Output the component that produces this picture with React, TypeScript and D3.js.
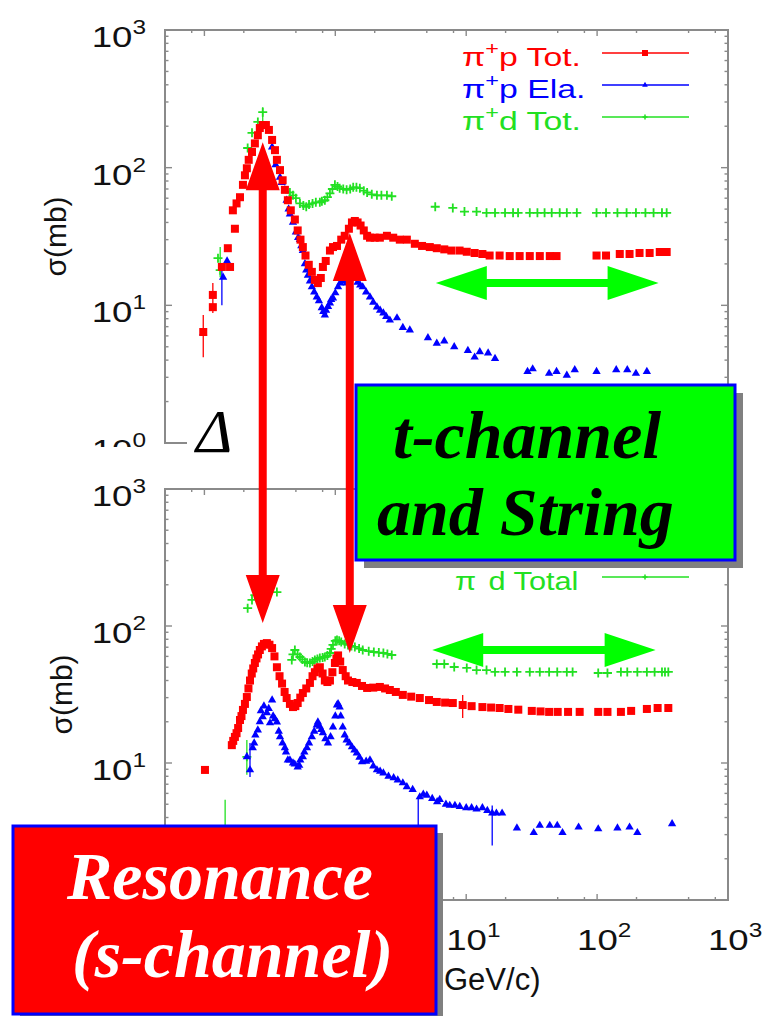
import React from "react";
import * as d3 from "d3";

type Pt = [number, number];
type Err = [number, number, number];

// p_lab (GeV/c), sigma (mb)
// top panel: pi+ p total, pi+ p elastic, pi+ d total
const pipTot: Pt[] = [
  [0.098, 6.4], [0.116, 9.7], [0.116, 11.9], [0.136, 19], [0.151, 26], [0.157, 19],
  [0.165, 49], [0.171, 36], [0.176, 55], [0.187, 61], [0.197, 75], [0.204, 88],
  [0.211, 99], [0.218, 114], [0.231, 130], [0.243, 150], [0.256, 172], [0.265, 194],
  [0.279, 204], [0.295, 204], [0.311, 188], [0.329, 159], [0.346, 134], [0.358, 114],
  [0.378, 96], [0.396, 81], [0.412, 69], [0.434, 58], [0.457, 49], [0.491, 42],
  [0.516, 35], [0.542, 30], [0.565, 26.5], [0.592, 23], [0.627, 19.7], [0.662, 17.5],
  [0.698, 15.3], [0.736, 14.5], [0.775, 15.8], [0.804, 19], [0.845, 21], [0.91, 25],
  [0.96, 26.5], [1.03, 27], [1.11, 30], [1.18, 32], [1.27, 36], [1.34, 40],
  [1.41, 41], [1.48, 40], [1.56, 38], [1.65, 35], [1.75, 32], [1.84, 31],
  [2.0, 31], [2.19, 31], [2.48, 32], [2.77, 31], [3.11, 30], [3.52, 30],
  [4.05, 28], [4.6, 27], [5.27, 26.5], [5.96, 26], [6.8, 25.5], [7.7, 25],
  [8.9, 25], [10.1, 24.5], [11.6, 24], [13.3, 23.6], [15.1, 23], [18, 23],
  [21.5, 22.8], [25.6, 22.8], [30.6, 22.8], [36.5, 22.8], [43.5, 22.8], [49, 22.8],
  [99, 23], [117, 23], [149, 23.6], [177, 23.6], [211, 24], [252, 24], [301, 24.4], [340, 24.4],
];
const pipEla: Pt[] = [
  [0.098, 6.3], [0.139, 16], [0.149, 21], [0.329, 141], [0.35, 105], [0.378, 85],
  [0.39, 78], [0.412, 69], [0.425, 58], [0.44, 50], [0.45, 46], [0.475, 40],
  [0.5, 34], [0.52, 31], [0.537, 30], [0.55, 27], [0.565, 25], [0.586, 20],
  [0.6, 18], [0.618, 16.5], [0.64, 15], [0.662, 13.6], [0.69, 12.5], [0.722, 11.5],
  [0.75, 10.8], [0.788, 9.6], [0.81, 9], [0.832, 8.5], [0.85, 9.2], [0.88, 9.8],
  [0.91, 10.4], [0.93, 11], [0.96, 11.3], [1.0, 12.3], [1.05, 13.6], [1.09, 14.5],
  [1.13, 15.3], [1.17, 15], [1.22, 14.5], [1.28, 15.5], [1.34, 16], [1.4, 15.8],
  [1.48, 14.7], [1.55, 14], [1.62, 13.6], [1.72, 12.5], [1.84, 11.5], [1.95, 10.5],
  [2.08, 9.7], [2.2, 9.2], [2.33, 8.8], [2.45, 8.3], [2.61, 7.8], [2.96, 8.1],
  [3.28, 6.9], [3.71, 6.6], [5.1, 5.8], [5.96, 5.3], [6.8, 5.5], [8.1, 5.0],
  [10.3, 4.7], [11.6, 4.2], [12.7, 4.6], [14.7, 4.5], [16.6, 4.1], [29.4, 3.3],
  [32.2, 3.45], [43, 3.2], [49, 3.3], [58.7, 3.1], [67.5, 3.4], [99, 3.3],
  [140, 3.4], [170, 3.4], [198, 3.2], [240, 3.3],
];
const pidTot: Pt[] = [
  [0.127, 22], [0.132, 18], [0.214, 139], [0.231, 179], [0.256, 215], [0.279, 253],
  [0.45, 66], [0.475, 63], [0.5, 60], [0.537, 55], [0.57, 53], [0.6, 52],
  [0.63, 54], [0.67, 55], [0.71, 56], [0.762, 56], [0.79, 57], [0.832, 58],
  [0.87, 61], [0.91, 65], [0.95, 70], [0.993, 75], [1.04, 73], [1.08, 71],
  [1.15, 70], [1.22, 69], [1.3, 70], [1.37, 72], [1.45, 72], [1.54, 71],
  [1.65, 68], [1.75, 66], [1.9, 64], [2.08, 63], [2.25, 63], [2.48, 63],
  [2.7, 62], [5.8, 52], [7.9, 51], [9.7, 48], [12.0, 48], [14.3, 47],
  [16.6, 47], [19.8, 47], [22.8, 47], [24.9, 47], [30.6, 47], [35, 47],
  [39.7, 47], [45, 47], [51.8, 47], [58.7, 47], [70, 47], [99, 47],
  [117, 47], [143, 47], [168, 47], [198, 47], [234, 47], [270, 47], [313, 47], [340, 47],
];

// bottom panel: pi- p total, pi- p elastic, pi- d total
const pimTot: Pt[] = [
  [0.101, 8.9], [0.162, 13.5], [0.166, 14.5], [0.171, 15.5], [0.176, 16.5], [0.181, 18],
  [0.187, 20.6], [0.192, 22], [0.197, 24.4], [0.204, 27], [0.211, 30.3], [0.217, 35],
  [0.223, 40], [0.23, 45], [0.236, 49], [0.243, 53.7], [0.25, 58], [0.257, 62],
  [0.265, 66.8], [0.275, 71], [0.285, 74], [0.3, 75], [0.314, 73], [0.329, 69],
  [0.343, 60], [0.358, 50], [0.375, 43], [0.392, 38], [0.41, 33], [0.425, 29.8],
  [0.45, 27], [0.475, 25.6], [0.495, 26], [0.516, 27.4], [0.54, 30], [0.565, 32.4],
  [0.6, 35], [0.64, 38.4], [0.67, 43], [0.698, 46], [0.73, 49], [0.762, 50],
  [0.8, 45], [0.832, 40], [0.87, 39], [0.91, 40], [0.95, 46], [0.993, 53.7],
  [1.02, 58], [1.05, 61], [1.09, 55], [1.14, 47.7], [1.2, 43], [1.25, 40],
  [1.35, 39], [1.46, 38.4], [1.6, 36.5], [1.75, 35.3], [1.95, 35.5], [2.19, 35.9],
  [2.4, 35], [2.61, 34.1], [2.9, 33], [3.28, 31.4], [3.8, 30.5], [4.42, 29.8],
  [5.2, 28.8], [5.96, 27.9], [6.9, 27.6], [7.9, 27.4], [9.4, 26.5], [11, 26],
  [13.3, 25.6], [15.5, 25.4], [18, 25.2], [21, 24.8], [25, 24.5], [31.7, 24],
  [37, 23.8], [43, 23.6], [50, 23.6], [60, 23.6], [73.6, 23.6], [102, 23.6],
  [120, 23.6], [152, 23.6], [182, 24], [240, 24.8], [290, 25.2], [350, 25.2],
];
const pimEla: Pt[] = [
  [0.211, 11.1], [0.223, 8.9], [0.234, 12.9], [0.24, 14], [0.245, 16], [0.256, 17.4],
  [0.265, 20], [0.27, 24], [0.279, 21.7], [0.285, 26], [0.3, 23.2], [0.31, 25],
  [0.317, 19.6], [0.329, 28.8], [0.335, 22], [0.345, 21], [0.358, 19.9], [0.37, 17],
  [0.378, 15.5], [0.395, 14], [0.412, 12.9], [0.42, 12], [0.434, 10.5], [0.45, 10.5],
  [0.475, 10], [0.49, 9.8], [0.516, 9.35], [0.53, 9.6], [0.54, 10.5], [0.565, 11.1],
  [0.58, 12], [0.607, 12.9], [0.63, 14], [0.662, 15.5], [0.69, 17], [0.722, 18.9],
  [0.736, 19.9], [0.76, 18.5], [0.78, 17.5], [0.804, 16.6], [0.84, 15], [0.879, 14],
  [0.92, 15.5], [0.96, 18.3], [1.0, 22], [1.03, 26.5], [1.05, 27], [1.08, 25.6],
  [1.1, 22], [1.14, 18.3], [1.18, 16], [1.22, 14.7], [1.28, 14], [1.34, 13.1],
  [1.4, 12.4], [1.46, 11.8], [1.53, 11], [1.6, 10.2], [1.72, 10.3], [1.84, 10.5],
  [1.95, 9.5], [2.08, 8.9], [2.2, 8.7], [2.33, 8.45], [2.55, 8], [2.79, 7.8],
  [3.0, 7.5], [3.28, 7.15], [3.52, 6.7], [3.9, 6.4], [4.42, 5.65], [4.7, 5.9],
  [5.0, 5.8], [5.5, 5.5], [6.0, 5.2], [6.28, 5.4], [7.0, 5.0], [7.49, 4.9],
  [8.2, 4.9], [8.93, 4.8], [10, 4.7], [11.0, 4.7], [12, 4.6], [13.3, 4.7],
  [14.5, 4.5], [15.8, 4.3], [17, 4.3], [18.8, 4.3], [24.4, 3.35], [32.8, 3.1],
  [36.5, 3.5], [43.5, 3.5], [49.6, 3.5], [54.4, 3.1], [72.2, 3.4], [102, 3.3],
  [143, 3.35], [177, 3.4], [203, 3.1], [374, 3.6],
];
const pimdTot: Pt[] = [
  [0.211, 11.1], [0.214, 135], [0.231, 155], [0.243, 168], [0.358, 177],
  [0.465, 56.5], [0.475, 62], [0.491, 66.8], [0.515, 62], [0.537, 59.4], [0.56, 57],
  [0.586, 54.6], [0.61, 54], [0.64, 53.7], [0.67, 55], [0.698, 56.5], [0.73, 57.5],
  [0.762, 58.4], [0.8, 59], [0.832, 59.4], [0.87, 61], [0.91, 63.5], [0.93, 68],
  [0.96, 72.7], [1.0, 78], [1.03, 79], [1.07, 78], [1.11, 76.4], [1.18, 74],
  [1.25, 72.7], [1.33, 71.5], [1.41, 70.3], [1.52, 68.5], [1.62, 66.8], [1.8, 65.5],
  [1.97, 64.6], [2.15, 64], [2.33, 63.5], [2.5, 62.5], [2.7, 61.4],
  [5.96, 52.8], [6.8, 52.8], [8.1, 50.2], [10.1, 49.4], [12.0, 47.7], [14.3, 47.7],
  [16.6, 46.2], [19.8, 46.2], [24.4, 46.2], [30.6, 46.2], [36.5, 46.2], [43, 46.2],
  [49.6, 46.2], [58.7, 46.2], [65, 46.2], [102, 45.4], [120, 45.4], [152, 46.2],
  [170, 46.2], [203, 46.2], [240, 46.2], [275, 46.2], [313, 46.2], [330, 46.2], [350, 46.2],
];

// error bars [p, low, high]
const pipTotErr: Err[] = [[0.098, 4.2, 8.5], [0.116, 8.8, 14.5]];
const pipElaErr: Err[] = [[0.136, 10, 20]];
const pidTotErr: Err[] = [[0.132, 16, 26.5], [0.279, 210, 275]];
const pimTotErr: Err[] = [[9.4, 21.3, 31.4]];
const pimElaErr: Err[] = [[0.223, 7.9, 14], [4.3, 2.5, 5.65], [15.8, 2.5, 4.9]];
const pimdTotErr: Err[] = [[0.144, 2.5, 5.4], [0.211, 8.2, 14.7]];

const xDecades = [0.1, 1, 10, 100, 1000];
const xMinor = [2, 5, 8];
const yDecades = [1, 10, 100, 1000];
const yMinor = [2, 3, 4, 5, 6, 7, 8, 9];
const xExp = ["-1", "0", "1", "2", "3"];
const yExp = ["0", "1", "2", "3"];
const xTitleVisible = "GeV/c)"; // rest of the x title sits under the red label box

// legend rows; the first two lower rows sit under the green label box
const topLegend = [
  { sup: "+", rest: "p Tot.", key: "tot", row: 0 },
  { sup: "+", rest: "p Ela.", key: "ela", row: 1 },
  { sup: "+", rest: "d Tot.", key: "d", row: 2 },
];
const botLegend = [{ sup: "\u2212", rest: "d Total", key: "d", row: 2 }];

const RED = "#ff0000";
const BLUE = "#0000ff";
const GREEN = "#22e022";
const FRAME = "#8a8a8a";
const SANS = "'Liberation Sans', Arial, sans-serif";
const SERIF = "'Liberation Serif', 'Times New Roman', serif";

const x = d3.scaleLog().domain([0.05, 1000]).range([165, 728]);
const yTop = d3.scaleLog().domain([1, 1000]).range([443, 30]);
const yBot = d3.scaleLog().domain([1, 1000]).range([900, 489]);

const tri = d3.symbol().type(d3.symbolTriangle).size(30)() as string;
const triSmall = d3.symbol().type(d3.symbolTriangle).size(14)() as string;

const colorOf: Record<string, string> = { tot: RED, ela: BLUE, d: GREEN };

function Marker({ kind, cx, cy, small }: { kind: string; cx: number; cy: number; small?: boolean }) {
  if (kind === "tot") {
    const s = small ? 6 : 8;
    return <rect x={cx - s / 2} y={cy - s / 2} width={s} height={s} fill={RED} />;
  }
  if (kind === "ela") {
    return <path d={small ? triSmall : tri} transform={`translate(${cx},${cy})`} fill={BLUE} />;
  }
  const h = small ? 2.5 : 4.5;
  return (
    <path
      d={`M${cx - h},${cy}H${cx + h}M${cx},${cy - h}V${cy + h}`}
      stroke={GREEN}
      strokeWidth={small ? 1.5 : 1.8}
    />
  );
}

function Series({ data, errs, kind, y }: { data: Pt[]; errs: Err[]; kind: string; y: d3.ScaleLogarithmic<number, number> }) {
  const c = colorOf[kind];
  return (
    <g>
      {errs.map((e, i) => (
        <line key={"e" + i} x1={x(e[0])} x2={x(e[0])} y1={y(e[1])} y2={y(e[2])} stroke={c} strokeWidth={1.3} />
      ))}
      {data.map((d, i) => (
        <Marker key={i} kind={kind} cx={x(d[0])} cy={y(d[1])} />
      ))}
    </g>
  );
}

function Pow({ tx, ty, exp, anchor }: { tx: number; ty: number; exp: string; anchor: string }) {
  return (
    <g transform={`translate(${tx},${ty}) scale(1.22,1)`}>
      <text fontFamily={SANS} fontSize={30} fill="#111" textAnchor={anchor}>
        10<tspan dy={-13} fontSize={20}>{exp}</tspan>
      </text>
    </g>
  );
}

function Frame({ y }: { y: d3.ScaleLogarithmic<number, number> }) {
  const [x0, x1] = x.range();
  const [yb, yt] = y.range();
  const ticks: JSX.Element[] = [];
  xDecades.forEach((dv, i) => {
    const px = x(dv);
    ticks.push(<line key={"xt" + i} x1={px} x2={px} y1={yt} y2={yt + 6} />);
    ticks.push(<line key={"xb" + i} x1={px} x2={px} y1={yb} y2={yb - 6} />);
    xMinor.forEach((m, j) => {
      const v = (dv * m) / 10;
      if (v <= x.domain()[0]) return;
      const q = x(v);
      ticks.push(<line key={`xm${i}-${j}`} x1={q} x2={q} y1={yt} y2={yt + 3} />);
      ticks.push(<line key={`xn${i}-${j}`} x1={q} x2={q} y1={yb} y2={yb - 3} />);
    });
  });
  yDecades.forEach((dv, i) => {
    const py = y(dv);
    ticks.push(<line key={"yl" + i} x1={x0} x2={x0 + 7} y1={py} y2={py} />);
    ticks.push(<line key={"yr" + i} x1={x1} x2={x1 - 7} y1={py} y2={py} />);
    if (dv >= 1000) return;
    yMinor.forEach((m, j) => {
      const q = y(dv * m);
      ticks.push(<line key={`yml${i}-${j}`} x1={x0} x2={x0 + 3.5} y1={q} y2={q} />);
      ticks.push(<line key={`ymr${i}-${j}`} x1={x1} x2={x1 - 3.5} y1={q} y2={q} />);
    });
  });
  return (
    <g stroke={FRAME} fill="none">
      <rect x={x0} y={yt} width={x1 - x0} height={yb - yt} strokeWidth={2} />
      <g strokeWidth={1.4}>{ticks}</g>
    </g>
  );
}

function Legend({ items, baseY, lx, sx, supDy }: { items: typeof topLegend; baseY: number; lx: number; sx: number; supDy: number }) {
  return (
    <g>
      {items.map((it, i) => {
        const by = baseY + it.row * 32;
        const c = colorOf[it.key];
        return (
          <g key={i}>
            <g transform={`translate(${lx},${by}) scale(${sx},1)`}>
              <text fontFamily={SANS} fontSize={26} fill={c}>
                π<tspan dy={supDy} fontSize={18}>{it.sup}</tspan>
                <tspan dy={-supDy}>{it.rest}</tspan>
              </text>
            </g>
            <line x1={602} x2={689} y1={by - 13} y2={by - 13} stroke={c} strokeWidth={1.3} />
            <Marker kind={it.key} cx={645} cy={by - 13} small />
          </g>
        );
      })}
    </g>
  );
}

function VArrow({ p, y1, y2, color }: { p: number; y1: number; y2: number; color: string }) {
  const cx = x(p);
  const hl = 48, hw = 17, sw = 4;
  const d = `M${cx},${y1} L${cx + hw},${y1 + hl} L${cx + sw},${y1 + hl} L${cx + sw},${y2 - hl} L${cx + hw},${y2 - hl} L${cx},${y2} L${cx - hw},${y2 - hl} L${cx - sw},${y2 - hl} L${cx - sw},${y1 + hl} L${cx - hw},${y1 + hl} Z`;
  return <path d={d} fill={color} />;
}

function HArrow({ p1, p2, cy, color }: { p1: number; p2: number; cy: number; color: string }) {
  const a = x(p1), b = x(p2);
  const hl = 51, hw = 17, sw = 4;
  const d = `M${a},${cy} L${a + hl},${cy - hw} L${a + hl},${cy - sw} L${b - hl},${cy - sw} L${b - hl},${cy - hw} L${b},${cy} L${b - hl},${cy + hw} L${b - hl},${cy + sw} L${a + hl},${cy + sw} L${a + hl},${cy + hw} Z`;
  return <path d={d} fill={color} />;
}

function Panel({ y, yLabelDecades, legend, legendY, legendX, legendSx, supDy, tot, ela, dd, totErr, elaErr, dErr, xLabelDecades, labelX }: any) {
  return (
    <g>
      <Frame y={y} />
      {yLabelDecades.map((dv: number) => (
        <Pow key={dv} tx={146} ty={y(dv) + 17} exp={yExp[yDecades.indexOf(dv)]} anchor="end" />
      ))}
      <text
        transform={`translate(${labelX},${(y.range()[0] + y.range()[1]) / 2}) rotate(-90)`}
        fontFamily={SANS}
        fontSize={30}
        fill="#111"
        textAnchor="middle"
      >
        σ(mb)
      </text>
      <Legend items={legend} baseY={legendY} lx={legendX} sx={legendSx} supDy={supDy} />
      <Series data={dd} errs={dErr} kind="d" y={y} />
      <Series data={ela} errs={elaErr} kind="ela" y={y} />
      <Series data={tot} errs={totErr} kind="tot" y={y} />
      {xLabelDecades.map((dv: number) => (
        <Pow key={"x" + dv} tx={x(dv) - 20} ty={950} exp={xExp[xDecades.indexOf(dv)]} anchor="start" />
      ))}
    </g>
  );
}

export default function App() {
  return (
    <div style={{ position: "absolute", left: 0, top: 0 }}>
      <svg width={769} height={1016} style={{ display: "block", background: "#fff" }}>
        <rect width={769} height={1016} fill="#fff" />
        <Panel
          y={yTop}
          yLabelDecades={yDecades}
          legend={topLegend}
          legendY={66}
          legendX={462}
          legendSx={1.3}
          supDy={-11}
          tot={pipTot}
          ela={pipEla}
          dd={pidTot}
          totErr={pipTotErr}
          elaErr={pipElaErr}
          dErr={pidTotErr}
          xLabelDecades={[]}
          labelX={66}
        />
        {/* pasted pieces cover the lower edge of the upper frame */}
        <rect x={187} y={405} width={582} height={45} fill="#fff" />
        <rect x={0} y={447} width={769} height={569} fill="#fff" />
        <Panel
          y={yBot}
          yLabelDecades={[10, 100, 1000]}
          legend={botLegend}
          legendY={526}
          legendX={455}
          legendSx={1.18}
          supDy={-17}
          tot={pimTot}
          ela={pimEla}
          dd={pimdTot}
          totErr={pimTotErr}
          elaErr={pimElaErr}
          dErr={pimdTotErr}
          xLabelDecades={[10, 100, 1000]}
          labelX={72}
        />
        <text x={444} y={990} fontFamily={SANS} fontSize={31} fill="#111">
          {xTitleVisible}
        </text>

        <VArrow p={0.279} y1={yTop(153)} y2={yBot(105)} color={RED} />
        <VArrow p={1.29} y1={yTop(33.5)} y2={yBot(63.5)} color={RED} />
        <HArrow p1={5.86} p2={295} cy={yTop(14.5)} color="#00ff00" />
        <HArrow p1={5.5} p2={280} cy={yBot(66.8)} color="#00ff00" />

        <text x={196} y={452} fontFamily={SERIF} fontStyle="italic" fontSize={62} fill="#000">
          Δ
        </text>

        <rect x={364} y={393} width={379} height={175} fill="#808080" />
        <rect x={356} y={385} width={379} height={175} fill="#00ff00" stroke={BLUE} strokeWidth={3} />
        <g fontFamily={SERIF} fontStyle="italic" fontWeight="bold" fontSize={68} fill="#000">
          <text x={393} y={458}>t-channel</text>
          <text x={377} y={535}>and String</text>
        </g>

        <rect x={20} y={833} width={423} height={188} fill="#808080" />
        <rect x={13} y={826} width={423} height={188} fill="#ff0000" stroke={BLUE} strokeWidth={3} />
        <g fontFamily={SERIF} fontStyle="italic" fontWeight="bold" fontSize={68} fill="#fff">
          <text x={67} y={899}>Resonance</text>
          <text x={72} y={977}>(s-channel)</text>
        </g>
      </svg>
    </div>
  );
}
